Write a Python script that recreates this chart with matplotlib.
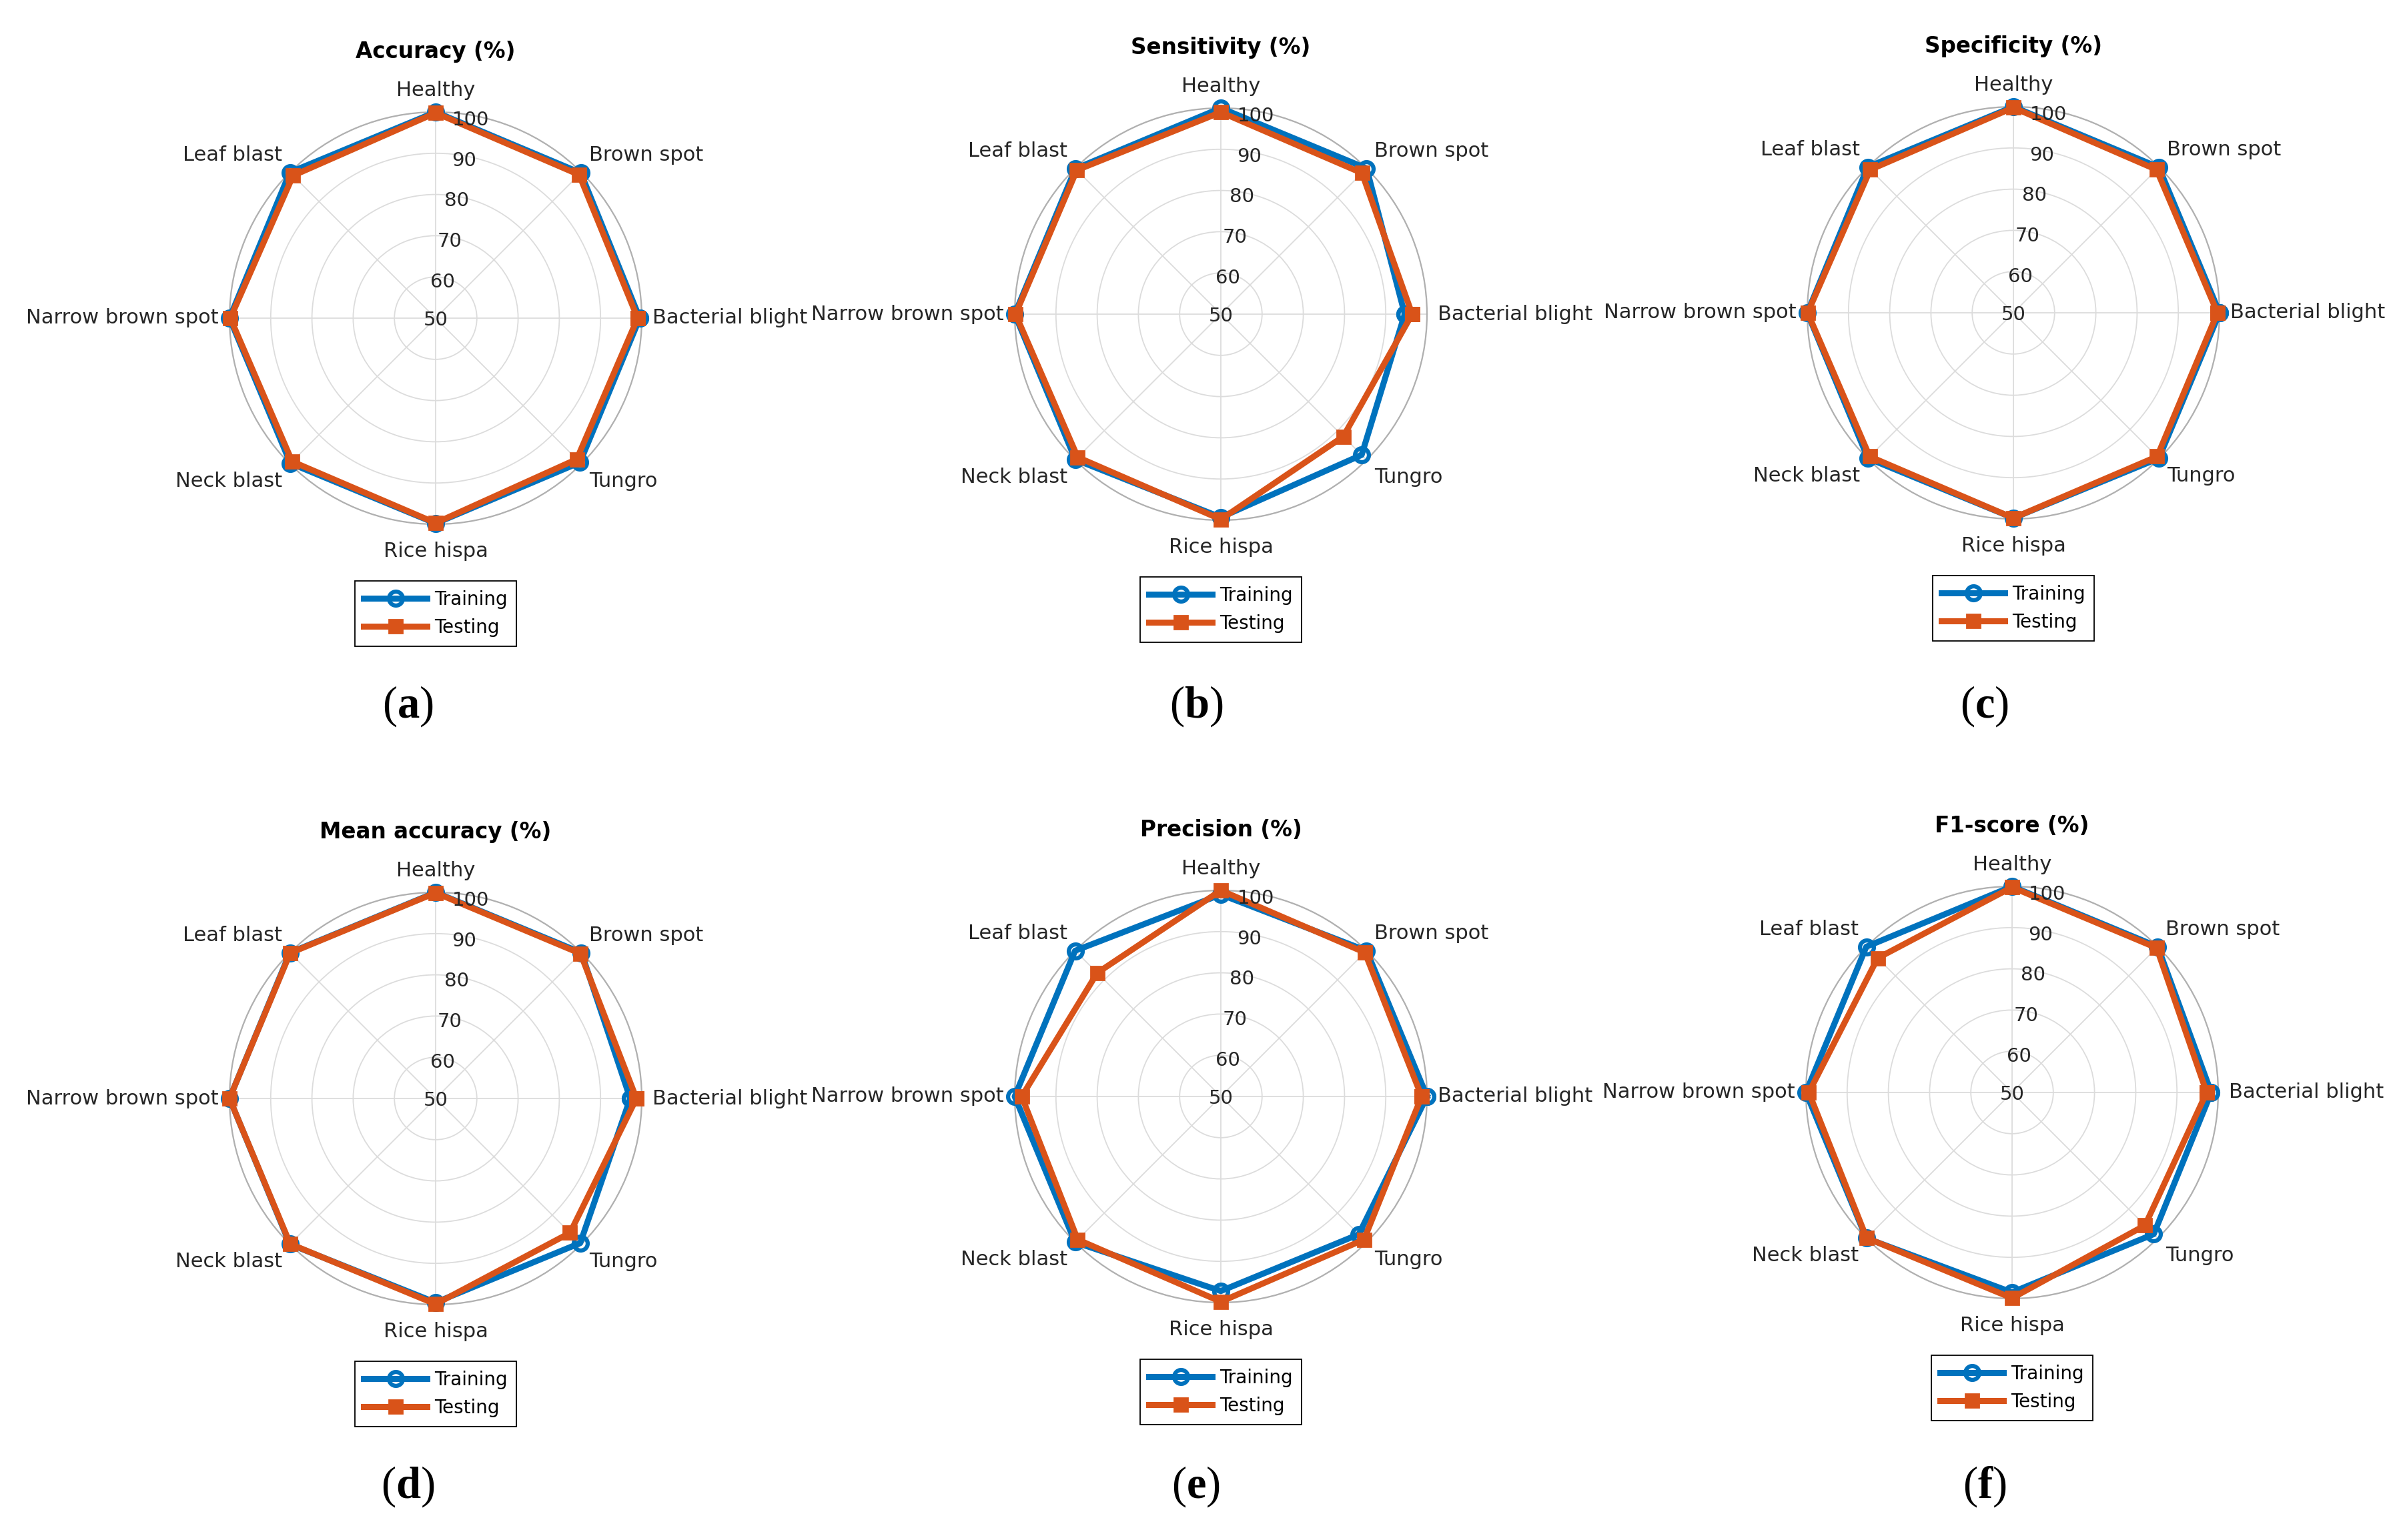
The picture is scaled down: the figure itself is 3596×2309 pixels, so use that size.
import numpy as np
import matplotlib
matplotlib.use('Agg')
import matplotlib.pyplot as plt

plt.rcParams['font.family'] = ['DejaVu Sans']
plt.rcParams['mathtext.fontset'] = 'custom'
plt.rcParams['mathtext.rm'] = 'Liberation Serif'
plt.rcParams['mathtext.bf'] = 'Liberation Serif:bold'

# ---------------- data ----------------
categories = ['Bacterial blight', 'Brown spot', 'Healthy', 'Leaf blast',
              'Narrow brown spot', 'Neck blast', 'Rice hispa', 'Tungro']
theta_deg = [0, 45, 90, 135, 180, 225, 270, 315]
r_ticks = [50, 60, 70, 80, 90, 100]
titles = ['Accuracy (%)', 'Sensitivity (%)', 'Specificity (%)',
          'Mean accuracy (%)', 'Precision (%)', 'F1-score (%)']
panel_letters = ['a', 'b', 'c', 'd', 'e', 'f']
series_names = ['Training', 'Testing']

accuracy_train = [99.5, 99.8, 100.0, 100.0, 100.0, 99.8, 99.8, 99.5]
accuracy_test = [99.0, 99.2, 99.8, 98.9, 99.8, 99.2, 99.7, 98.4]
sensitivity_train = [94.6, 100.0, 100.0, 99.9, 100.0, 99.9, 99.3, 98.3]
sensitivity_test = [96.4, 98.4, 99.0, 99.4, 99.8, 99.1, 99.8, 92.0]
specificity_train = [100.0, 99.9, 100.0, 100.0, 100.0, 99.9, 99.8, 99.9]
specificity_test = [99.5, 99.1, 99.8, 99.1, 99.9, 99.3, 99.8, 99.3]
mean_acc_train = [97.2, 100.0, 100.0, 100.0, 100.0, 100.0, 99.5, 99.6]
mean_acc_test = [98.7, 99.7, 99.9, 99.9, 100.0, 99.9, 99.9, 96.1]
precision_train = [100.0, 100.0, 99.0, 100.0, 100.0, 100.0, 97.2, 97.3]
precision_test = [98.7, 99.4, 100.0, 92.4, 98.3, 99.1, 99.8, 99.1]
f1_train = [98.3, 100.0, 100.0, 100.0, 100.0, 100.0, 98.5, 98.6]
f1_test = [97.2, 99.6, 99.8, 96.1, 99.3, 99.9, 99.9, 95.6]

train_sets = [accuracy_train, sensitivity_train, specificity_train,
              mean_acc_train, precision_train, f1_train]
test_sets = [accuracy_test, sensitivity_test, specificity_test,
             mean_acc_test, precision_test, f1_test]

# ---------------- layout ----------------
W, H = 3596, 2309
BLUE = '#0072BD'
ORANGE = '#D95319'
TXT = '#262626'
R = 309
centers = [(653, 477), (1830, 471), (3018, 469),
           (653, 1647), (1830, 1644), (3016, 1638)]
letter_pos = [(611, 1059), (1793, 1059), (2975, 1059),
              (611, 2229), (1793, 2229), (2975, 2229)]

# label alignment per angle
align = {0: ('left', 'center', 16), 45: ('left', 'bottom', 16),
         90: ('center', 'bottom', 18), 135: ('right', 'bottom', 16),
         180: ('right', 'center', 16), 225: ('right', 'top', 16),
         270: ('center', 'top', 26), 315: ('left', 'top', 16)}

fig = plt.figure(figsize=(W / 100, H / 100), dpi=100)
fig.patch.set_facecolor('white')

th = np.deg2rad(theta_deg)
th_closed = np.append(th, th[0])

for i in range(6):
    cx, cy = centers[i]
    ax = fig.add_axes([(cx - R) / W, 1 - (cy + R) / H, 2 * R / W, 2 * R / H],
                      projection='polar')
    ax.set_ylim(r_ticks[0], r_ticks[-1])
    ax.set_xticks(th)
    ax.set_xticklabels([])
    ax.set_yticks(r_ticks[1:])
    ax.set_yticklabels([])
    ax.grid(True, color='#dcdcdc', lw=1.3)
    ax.spines['polar'].set_color('#b0b0b0')
    ax.spines['polar'].set_linewidth(1.6)

    tr = np.append(train_sets[i], train_sets[i][0])
    te = np.append(test_sets[i], test_sets[i][0])
    ax.plot(th_closed, tr, color=BLUE, lw=6.5, marker='o', ms=15,
            mfc='none', mew=4.5, label=series_names[0], clip_on=False, zorder=3)
    ax.plot(th_closed, te, color=ORANGE, lw=6.5, marker='s', ms=14,
            mfc=ORANGE, mew=2, label=series_names[1], clip_on=False, zorder=4)

    # category labels
    for ang, cat in zip(theta_deg, categories):
        ha, va, off = align[ang]
        rr = r_ticks[0] + (r_ticks[-1] - r_ticks[0]) * (R + off) / R
        ax.text(np.deg2rad(ang), rr, cat, ha=ha, va=va, fontsize=22,
                color=TXT, clip_on=False)

    # radial tick labels
    for v in r_ticks:
        rr = max(v - 0.65, r_ticks[0])
        ax.text(np.deg2rad(80), rr, str(v), ha='center', va='center_baseline',
                fontsize=21, color=TXT, clip_on=False, zorder=5)

    # title
    fig.text(cx / W, 1 - (cy - 399) / H, titles[i], ha='center', va='center',
             fontsize=23.5, fontweight='bold', color='black')

    # legend
    leg = ax.legend(loc='upper center',
                    bbox_to_anchor=(cx / W, 1 - (cy + 394) / H),
                    bbox_transform=fig.transFigure, fontsize=20,
                    frameon=True, fancybox=False, edgecolor='black',
                    framealpha=1, handlelength=3.4, handletextpad=0.4,
                    borderpad=0.5, labelspacing=0.5, borderaxespad=0,
                    numpoints=1)
    leg.get_frame().set_linewidth(1.3)

    # panel letter
    lx, ly = letter_pos[i]
    fig.text(lx / W, 1 - ly / H, r'($\mathbf{' + panel_letters[i] + '}$)',
             ha='center', va='center', fontsize=48, color='black',
             family='Liberation Serif')

fig.savefig('out.png', dpi=100, facecolor='white')
